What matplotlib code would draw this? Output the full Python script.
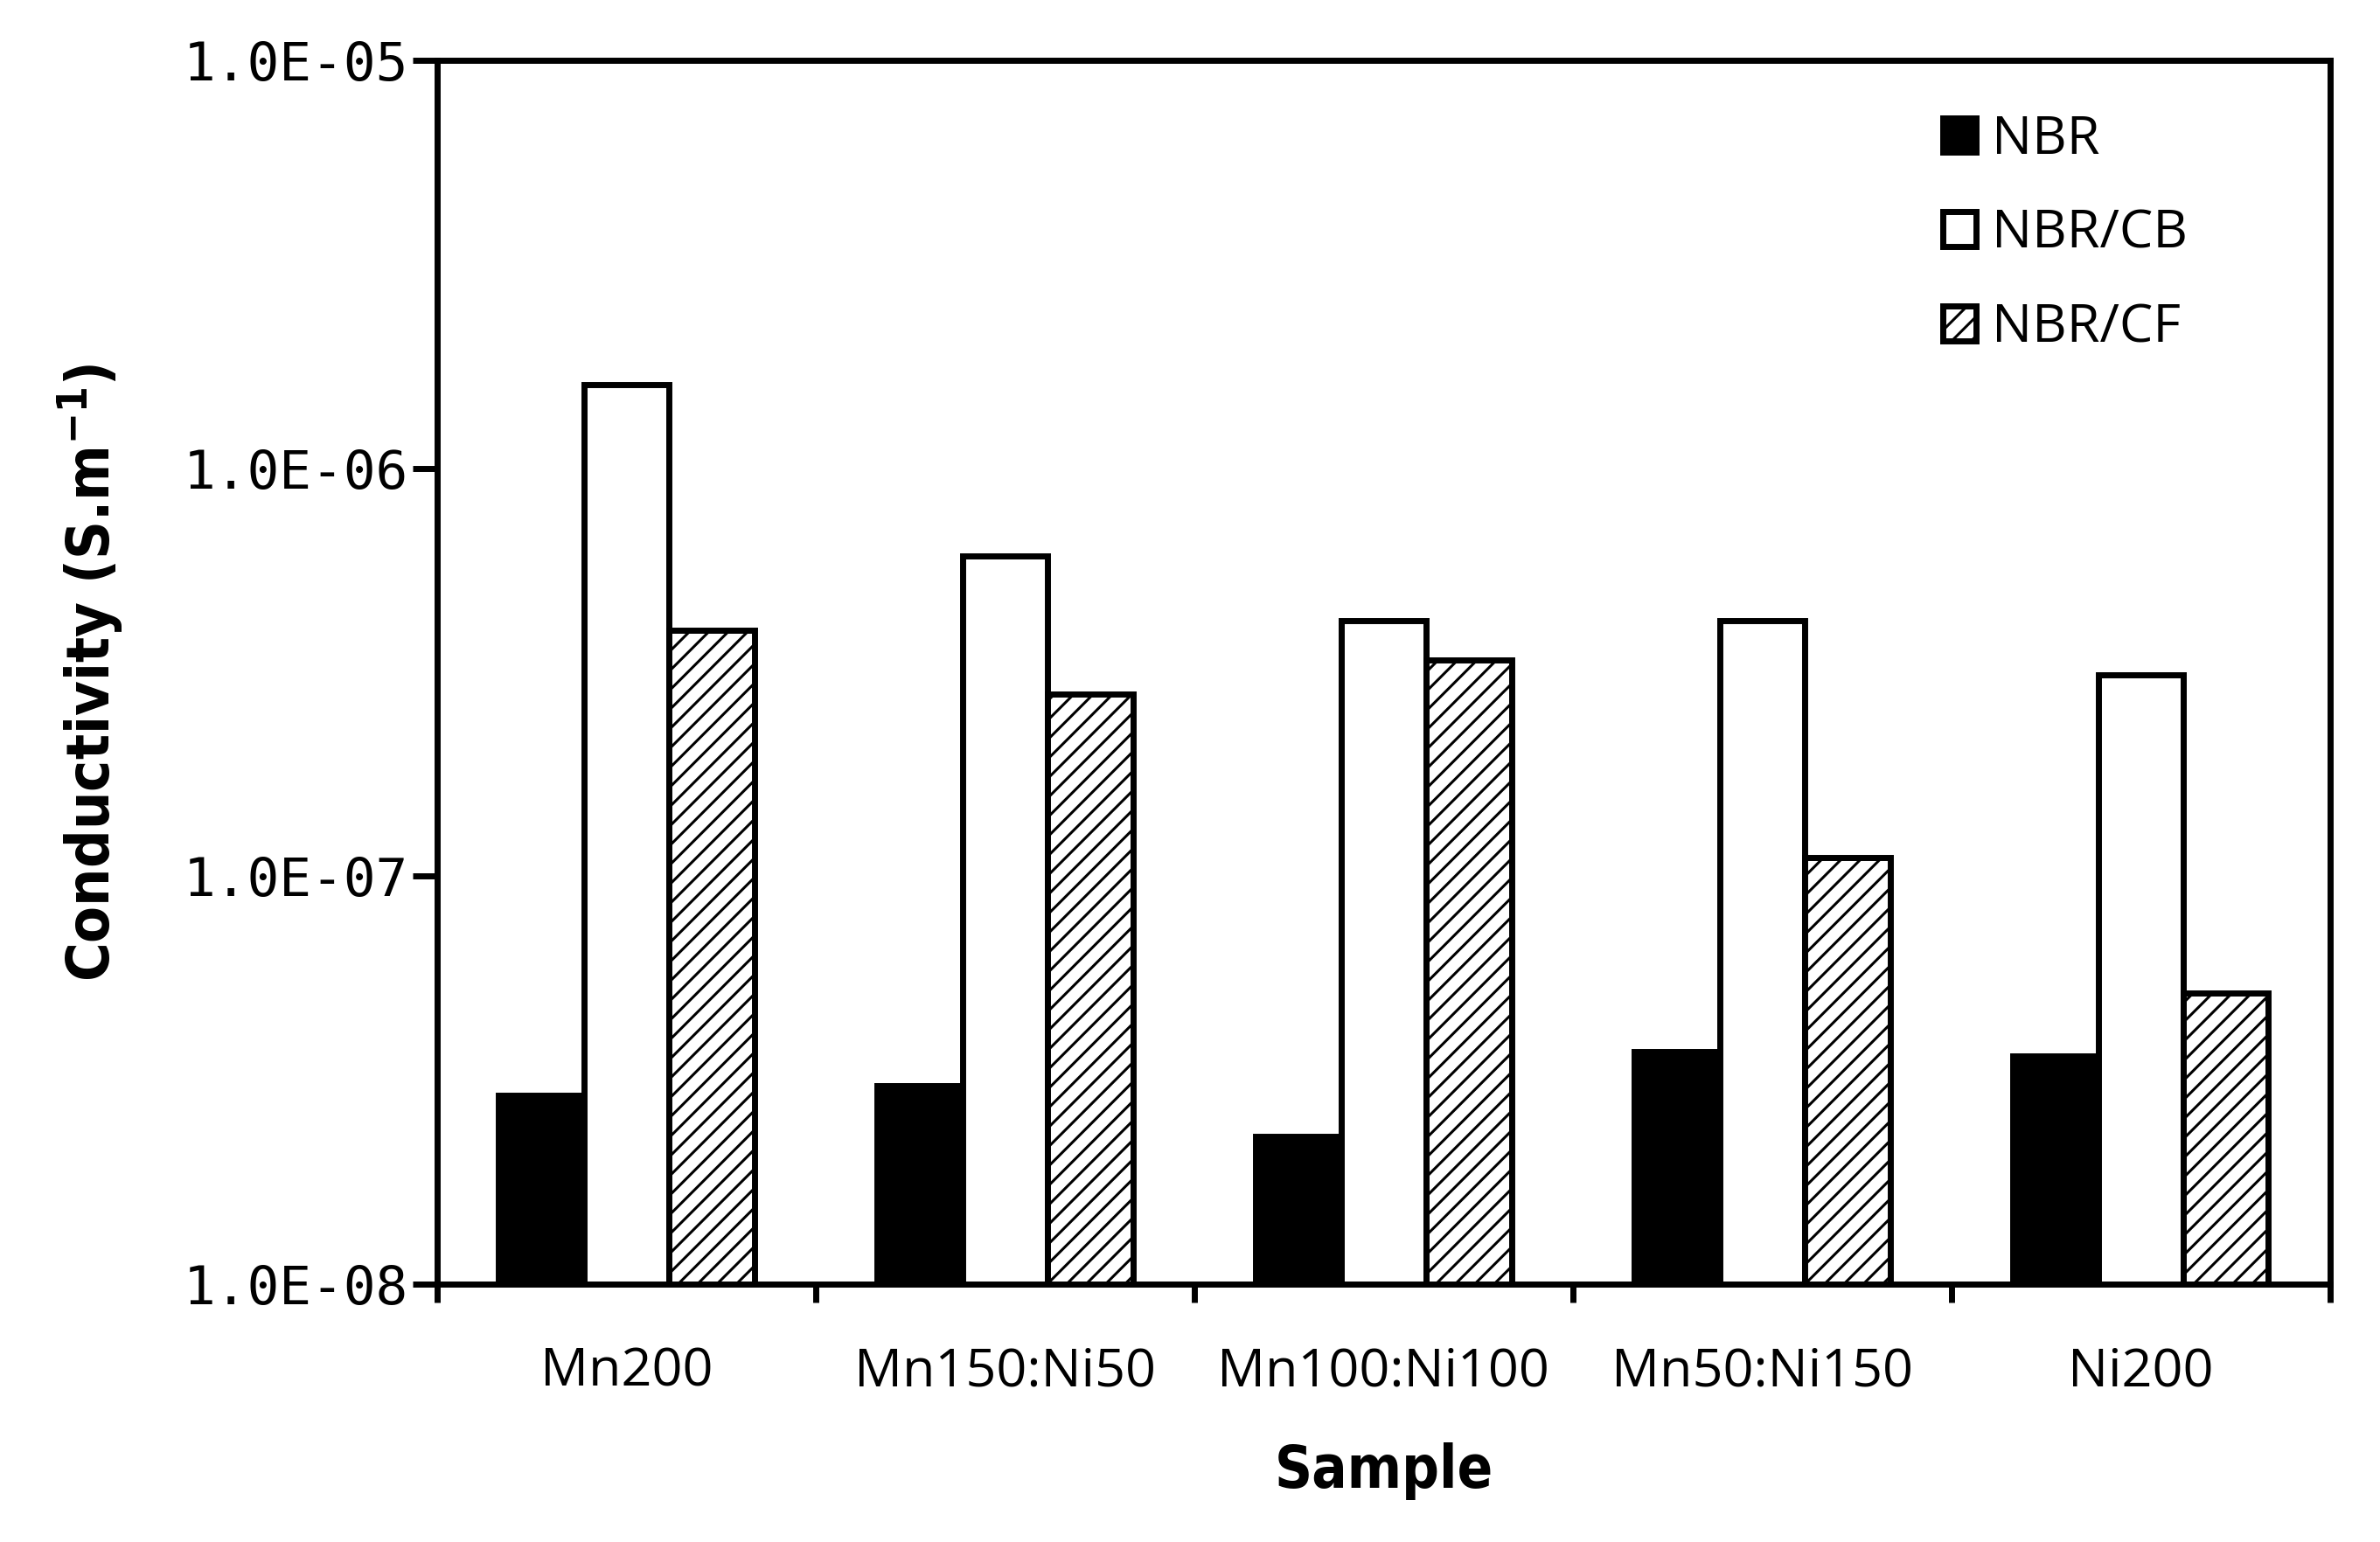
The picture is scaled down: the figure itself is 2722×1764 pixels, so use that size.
import matplotlib
matplotlib.use("Agg")
import matplotlib.pyplot as plt
import numpy as np
from matplotlib.ticker import FixedLocator, FuncFormatter, NullLocator
from matplotlib import font_manager as fm

categories = ["Mn200", "Mn150:Ni50", "Mn100:Ni100", "Mn50:Ni150", "Ni200"]
series_names = ["NBR", "NBR/CB", "NBR/CF"]
nbr = [2.9e-8, 3.07e-8, 2.3e-8, 3.71e-8, 3.62e-8]
nbr_cb = [1.6e-6, 6.1e-7, 4.23e-7, 4.23e-7, 3.11e-7]
nbr_cf = [4.0e-7, 2.8e-7, 3.39e-7, 1.11e-7, 5.18e-8]
y_ticks = [1e-8, 1e-7, 1e-6, 1e-5]

plt.rcParams['hatch.linewidth'] = 1.1

# find a condensed bold font if available
cond = None
for f in fm.fontManager.ttflist:
    if ("Condensed" in f.name or "Narrow" in f.name or f.stretch in ("condensed", 400)) and f.weight in (700, "bold"):
        cond = f.fname
        break

fig = plt.figure(figsize=(13.61, 8.82), dpi=200)
ax = fig.add_axes([0.1837, 0.1672, 0.979 - 0.1837, 0.9609 - 0.1672])

x = np.arange(len(categories))
w = 0.225
lw = 2.5
ax.bar(x - w, nbr, w, color="black", edgecolor="black", linewidth=lw, label=series_names[0])
ax.bar(x, nbr_cb, w, color="white", edgecolor="black", linewidth=lw, label=series_names[1])
ax.bar(x + w, nbr_cf, w, color="white", edgecolor="black", linewidth=lw, hatch="///", label=series_names[2])

ax.set_yscale("log")
ax.set_ylim(1e-8, 1e-5)
ax.set_xlim(-0.5, len(categories) - 0.5)

ax.yaxis.set_major_locator(FixedLocator(y_ticks))
ax.yaxis.set_minor_locator(NullLocator())
ax.yaxis.set_major_formatter(FuncFormatter(lambda v, p: "{:.1E}".format(v)))
ax.tick_params(axis="y", which="major", length=10, width=lw, direction="out", pad=2,
               labelsize=22)
for lab in ax.get_yticklabels():
    lab.set_fontfamily("DejaVu Sans Mono")

ax.set_xticks(np.arange(-0.5, len(categories), 1.0))
ax.set_xticklabels([])
ax.set_xticks(x, minor=True)
ax.set_xticklabels(categories, minor=True, fontfamily="Open Sans", fontsize=22)
ax.tick_params(axis="x", which="major", length=7.5, width=lw, direction="out")
ax.tick_params(axis="x", which="minor", length=0, pad=25.5)

for s in ax.spines.values():
    s.set_linewidth(lw)

if cond:
    ax.set_ylabel("Conductivity (S.m$^{\\mathregular{-1}}$)", fontproperties=fm.FontProperties(fname=cond, size=24.5))
    ax.set_xlabel("Sample", fontproperties=fm.FontProperties(fname=cond, size=24), labelpad=18)
else:
    ax.set_ylabel("Conductivity (S.m$^{\\mathregular{-1}}$)", fontfamily="DejaVu Sans",
                  fontweight="bold", fontsize=21.5)
    ax.set_xlabel("Sample", fontfamily="DejaVu Sans", fontweight="bold", fontsize=22, labelpad=18)
ax.yaxis.set_label_coords(-0.165, 0.5)

leg = ax.legend(loc="upper left", bbox_to_anchor=(2222 / 2722, 1 - 130 / 1764),
                bbox_transform=fig.transFigure, frameon=False,
                prop={"family": "Open Sans", "size": 22},
                handlelength=0.62, handleheight=0.62, handletextpad=0.3,
                labelspacing=0.78, borderpad=0, borderaxespad=0)

fig.savefig("out.png", dpi=200)
